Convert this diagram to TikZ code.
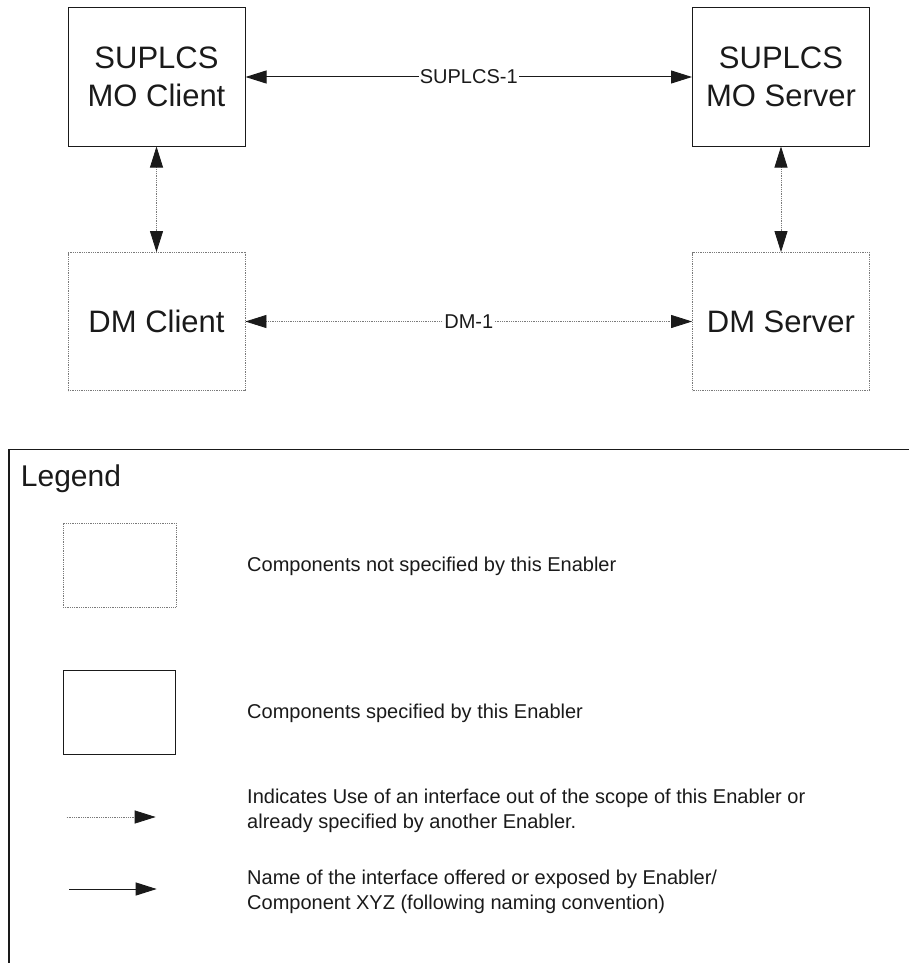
\documentclass[tikz,border=0pt]{standalone}
\usepackage{fontspec}
\setmainfont{Liberation Sans}
\usepackage{tikz}
\usetikzlibrary{positioning,arrows.meta,calc}
\definecolor{ink}    {HTML}{1A1A1A}
\definecolor{softink}{HTML}{7A7A7A}
\tikzset{
  >={Triangle[length=21pt,width=13pt,color=ink]},
  every node/.style={text=ink},
  % --- nodes
  comp/.style    = {draw=ink, line width=1pt, align=center, inner sep=0pt,
                    minimum width=177pt, minimum height=138pt,
                    font=\fontsize{31}{38}\selectfont},
  extcomp/.style = {comp, draw=softink, line width=0.8pt, densely dotted},
  ifname/.style  = {fill=white, inner sep=1pt, font=\fontsize{20}{24}\selectfont},
  legtext/.style = {anchor=west, align=left, inner sep=0pt,
                    font=\fontsize{20}{25.5}\selectfont},
  % --- edges
  spec/.style    = {line width=1pt, draw=ink},
  ext/.style     = {line width=0.8pt, draw=softink, densely dotted},
}
\begin{document}
\begin{tikzpicture}[x=1pt,y=-1pt]
  \useasboundingbox (0,0) rectangle (909,963);
  \clip (0,0) rectangle (909,963);
  % components
  \node[comp]    (moc) at (156.5,77)  {SUPLCS\\MO Client};
  \node[comp]    (mos) at (781,77)    {SUPLCS\\MO Server};
  \node[extcomp] (dmc) at (156.5,321.5) {DM Client};
  \node[extcomp] (dms) at (781,321.5)   {DM Server};
  % interfaces
  \draw[spec,<->] (moc) -- node[ifname] {SUPLCS-1} (mos);
  \draw[ext,<->]  (dmc) -- node[ifname] {DM-1} (dms);
  \draw[ext,<->]  (moc) -- (dmc);
  \draw[ext,<->]  (mos) -- (dms);
  % legend
  \draw[line width=1.1pt, draw=ink] (9,449.7) rectangle (980,1020);
  \node[anchor=base west, inner sep=0pt, font=\fontsize{30}{36}\selectfont] (leg) at (20.7,486.7) {Legend};
  \node[extcomp, minimum width=113pt, minimum height=84pt] (kext)  at (119.5,565) {};
  \node[comp, minimum width=112pt, minimum height=84pt]    (kspec) at (119,712)   {};
  \coordinate (ea) at (66.7,817);  \coordinate (eb) at (155.7,817);
  \coordinate (sa) at (69,889);    \coordinate (sb) at (156.7,889);
  \draw[ext,->]  (ea) -- (eb);
  \draw[spec,->] (sa) -- (sb);
  \node[legtext] (t1) at (247,566) {Components not specified by this Enabler};
  \node[legtext] (t2) at (247,713) {Components specified by this Enabler};
  \node[legtext] (t3) at (247,811) {Indicates Use of an interface out of the scope of this Enabler or\\already specified by another Enabler.};
  \node[legtext] (t4) at (247,892) {Name of the interface offered or exposed by Enabler/\\Component XYZ (following naming convention)};
\end{tikzpicture}
\end{document}
